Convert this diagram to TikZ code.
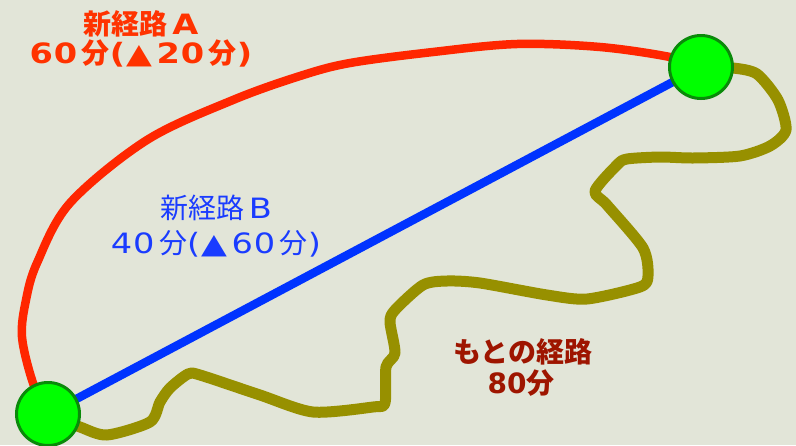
\documentclass[tikz,border=0pt]{standalone}
\usepackage{fontspec}
\setmainfont{DejaVu Sans}[FakeStretch=1.2,LetterSpace=3]
\newfontfamily\plainlat{DejaVu Sans}
\newfontfamily\jp{Noto Sans CJK JP}
\definecolor{bg}{HTML}{E2E5D8}
\definecolor{redline}{HTML}{FF2600}
\definecolor{blueline}{HTML}{0033FF}
\definecolor{oliveline}{HTML}{979000}
\definecolor{redtxt}{HTML}{FF3300}
\definecolor{bluetxt}{HTML}{1A3CFF}
\definecolor{darkredtxt}{HTML}{9E1500}
\definecolor{stnfill}{HTML}{00FF00}
\definecolor{stndraw}{HTML}{0A8A0A}
\pgfdeclarelayer{bglayer}
\pgfdeclarelayer{back}
\pgfsetlayers{bglayer,back,main}
\tikzset{
  stn/.style={circle,fill=stnfill,draw=stndraw,line width=3pt,minimum size=63pt,inner sep=0pt},
  lbl/.style={inner sep=0pt,font=\fontsize{28}{30}\selectfont},
  lblb/.style={inner sep=0pt,font=\fontsize{28}{30}\selectfont\bfseries},
  route/.style={line cap=round,line join=round}
}
\begin{document}
\begin{tikzpicture}[x=1pt,y=-1pt]
\begin{pgfonlayer}{bglayer}
\fill[bg] (0,0) rectangle (796,445);
\end{pgfonlayer}
\useasboundingbox (0,0) rectangle (796,445);
\node[stn] (L) at (48,414) {};
\node[stn] (R) at (701,67) {};
\begin{pgfonlayer}{back}
\draw[route,redline,line width=8.5pt] plot[smooth,tension=0.55] coordinates {
  (L.center) (33,383) (22,337) (26,300) (37,263) (70,203) (147,140) (233,100)
  (300,76) (350,63) (433,52) (517,44) (600,47) (670,57) (R.center)};
\draw[route,oliveline,line width=11pt] plot[smooth,tension=0.45] coordinates {
  (R.center) (733,68) (757,74) (778,100) (786,130) (770,146) (740,156) (693,158)
  (660,157) (627,159) (617,165) (595,191) (607,205) (643,248) (648,276) (640,287)
  (587,299) (547,295) (480,283) (447,281) (423,285) (395,310) (390,322) (395,353)
  (386,367) (385,403) (373,407) (313,412) (260,395) (200,375) (188,374) (170,388)
  (160,402) (150,422) (107,435) (80,427) (L.center)};
\draw[route,blueline,line width=8.5pt] (L.center) -- (R.center);
\end{pgfonlayer}
\node[lblb,text=redtxt] (a1) at (141,24) {{\jp 新経路}\,A};
\node[lblb,text=redtxt] (a2) at (141,53) {60\,{\jp 分}(▲\,20\,{\jp 分})};
\node[lbl,text=bluetxt] (b1) at (216,208) {{\jp 新経路}\,B};
\node[lbl,text=bluetxt] (b2) at (216,244) {40\,{\jp 分}(▲\,60\,{\jp 分})};
\node[lblb,text=darkredtxt] (c1) at (523,352) {{\jp もとの経路}};
\node[lblb,text=darkredtxt] (c2) at (521,383) {{\plainlat 80}{\jp 分}};
\end{tikzpicture}
\end{document}
